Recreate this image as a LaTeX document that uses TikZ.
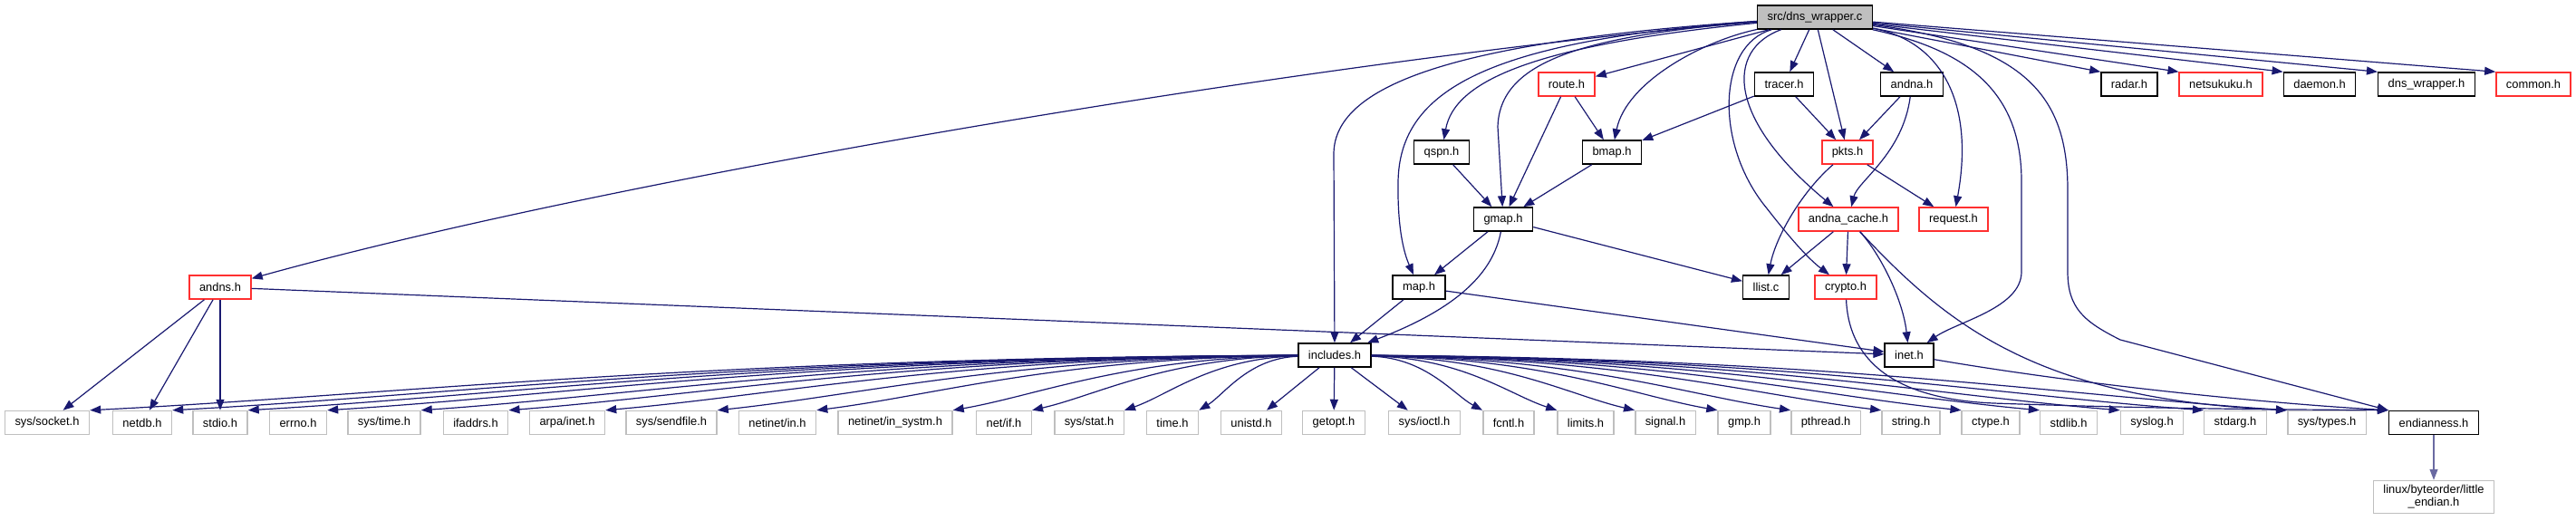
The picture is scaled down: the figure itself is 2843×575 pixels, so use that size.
\documentclass[tikz,border=0pt]{standalone}
\usepackage{fontspec}
\setmainfont{Liberation Sans}
\usetikzlibrary{arrows.meta,calc}
\definecolor{edgecol}{HTML}{191970}
\definecolor{redb}{HTML}{FF3030}
\definecolor{grayb}{HTML}{BFBFBF}
\definecolor{srcfill}{HTML}{BFBFBF}
\begin{document}
\begin{tikzpicture}[x=1pt,y=-1pt,
  base/.style={rectangle, line width=1.5pt, fill=white, minimum height=26pt, inner xsep=11pt, inner ysep=3pt, font=\fontsize{12.9}{15}\selectfont},
  blk/.style={base, draw=black},
  redbox/.style={base, draw=redb},
  sysbox/.style={base, draw=grayb},
  srcbox/.style={base, draw=black, fill=srcfill},
  arr/.style={draw=edgecol, line width=1.2pt, -{Triangle[length=12pt,width=9pt]}},
  arrl/.style={arr, draw=edgecol!65}
]
\useasboundingbox (0,0) rectangle (2843,575);

% row 1
\node[srcbox] (src) at (2003,19) {src/dns\_wrapper.c};
% row 2
\node[redbox] (route) at (1729,93) {route.h};
\node[blk] (tracer) at (1969,93) {tracer.h};
\node[blk] (andna) at (2110,93) {andna.h};
\node[blk] (radar) at (2350,93) {radar.h};
\node[redbox] (netsukuku) at (2451,93) {netsukuku.h};
\node[blk] (daemon) at (2560,93) {daemon.h};
\node[blk] (dnswh) at (2678,93) {dns\_wrapper.h};
\node[redbox] (common) at (2796,93) {common.h};
% row 3
\node[blk] (qspn) at (1591,168) {qspn.h};
\node[blk] (bmap) at (1779,168) {bmap.h};
\node[redbox] (pkts) at (2039,168) {pkts.h};
% row 4
\node[blk] (gmap) at (1659,242) {gmap.h};
\node[redbox] (andnacache) at (2040,242) {andna\_cache.h};
\node[redbox] (request) at (2156,242) {request.h};
% row 5
\node[redbox] (andns) at (243,317) {andns.h};
\node[blk] (map) at (1566,317) {map.h};
\node[blk] (llist) at (1949,317) {llist.c};
\node[redbox] (crypto) at (2037,317) {crypto.h};
% row 6
\node[blk] (includes) at (1473,392) {includes.h};
\node[blk] (inet) at (2107,392) {inet.h};
% row 7
\node[sysbox] (socket) at (52,466.5) {sys/socket.h};
\node[sysbox] (netdb) at (157,466.5) {netdb.h};
\node[sysbox] (stdio) at (243,466.5) {stdio.h};
\node[sysbox] (errno) at (329,466.5) {errno.h};
\node[sysbox] (systime) at (424,466.5) {sys/time.h};
\node[sysbox] (ifaddrs) at (525,466.5) {ifaddrs.h};
\node[sysbox] (arpainet) at (626,466.5) {arpa/inet.h};
\node[sysbox] (sendfile) at (741,466.5) {sys/sendfile.h};
\node[sysbox] (netinetin) at (858,466.5) {netinet/in.h};
\node[sysbox] (insystm) at (988,466.5) {netinet/in\_systm.h};
\node[sysbox] (netif) at (1108,466.5) {net/if.h};
\node[sysbox] (sysstat) at (1202,466.5) {sys/stat.h};
\node[sysbox] (timeh) at (1294,466.5) {time.h};
\node[sysbox] (unistd) at (1381,466.5) {unistd.h};
\node[sysbox] (getopt) at (1472,466.5) {getopt.h};
\node[sysbox] (ioctl) at (1572,466.5) {sys/ioctl.h};
\node[sysbox] (fcntl) at (1665,466.5) {fcntl.h};
\node[sysbox] (limits) at (1750,466.5) {limits.h};
\node[sysbox] (signal) at (1838,466.5) {signal.h};
\node[sysbox] (gmp) at (1925,466.5) {gmp.h};
\node[sysbox] (pthread) at (2015,466.5) {pthread.h};
\node[sysbox] (string) at (2109,466.5) {string.h};
\node[sysbox] (ctype) at (2197,466.5) {ctype.h};
\node[sysbox] (stdlib) at (2283,466.5) {stdlib.h};
\node[sysbox] (syslog) at (2375,466.5) {syslog.h};
\node[sysbox] (stdarg) at (2467,466.5) {stdarg.h};
\node[sysbox] (systypes) at (2568,466.5) {sys/types.h};
\node[blk] (endian) at (2686,466.5) {endianness.h};
% row 8
\node[sysbox, align=center, inner ysep=5pt, font=\fontsize{12.9}{14}\selectfont] (linux) at (2686,548.5) {linux/byteorder/little\\\_endian.h};

% edges from src
\draw[arr] (src) .. controls (1500,60) and (700,190) .. (andns);
\draw[arr] (src) .. controls (1620,45) and (1472,90) .. (1472,170) -- (includes);
\draw[arr] (src) .. controls (1640,45) and (1545,100) .. (1543,200) .. controls (1542,260) and (1552,285) .. (map);
\draw[arr] (src) .. controls (1690,50) and (1605,90) .. (qspn);
\draw[arr] (src) .. controls (1740,40) and (1655,70) .. (1653,140) -- (gmap);
\draw[arr] (src) -- (route);
\draw[arr] (src) .. controls (1880,45) and (1795,90) .. (bmap);
\draw[arr] (src) -- (tracer);
\draw[arr] (src) -- (pkts);
\draw[arr] (src) -- (andna);
\draw[arr] (src) .. controls (1905,55) and (1905,130) .. (andnacache);
\draw[arr] (src) .. controls (1895,50) and (1892,160) .. (1950,230) .. controls (1975,262) and (1995,285) .. (crypto);
\draw[arr] (src) .. controls (2140,45) and (2180,110) .. (request);
\draw[arr] (src) .. controls (2170,55) and (2231,100) .. (2231,200) -- (2231,300) .. controls (2231,340) and (2160,355) .. (inet);
\draw[arr] (src) .. controls (2240,50) and (2282,110) .. (2282,210) -- (2282,300) .. controls (2282,340) and (2300,355) .. (2340,375) -- (endian.north west);
\draw[arr] (src) -- (radar.north west);
\draw[arr] (src) -- (netsukuku.north west);
\draw[arr] (src) -- (daemon.north west);
\draw[arr] (src) -- (dnswh.north west);
\draw[arr] (src) -- (common.north west);

% other edges
\draw[arr] (route) -- (gmap);
\draw[arr] (route) -- (bmap);
\draw[arr] (tracer) -- (bmap);
\draw[arr] (tracer) -- (pkts);
\draw[arr] (andna) -- (pkts);
\draw[arr] (andna) .. controls (2100,170) and (2050,200) .. (andnacache);
\draw[arr] (qspn) -- (gmap);
\draw[arr] (bmap) -- (gmap);
\draw[arr] (pkts) .. controls (1990,210) and (1960,260) .. (llist);
\draw[arr] (pkts) -- (request);
\draw[arr] (gmap) -- (map);
\draw[arr] (gmap) -- (llist);
\draw[arr] (gmap) .. controls (1648,300) and (1610,340) .. (includes);
\draw[arr] (andnacache) -- (llist);
\draw[arr] (andnacache) -- (crypto);
\draw[arr] (andnacache) .. controls (2075,280) and (2100,330) .. (inet);
\draw[arr] (andnacache) .. controls (2150,360) and (2250,440) .. (systypes.north west);
\draw[arr] (crypto) .. controls (2040,390) and (2080,440) .. (2200,445) .. controls (2400,452) and (2550,452) .. (endian.north west);
\draw[arr] (andns) -- (socket);
\draw[arr] (andns) -- (netdb);
\draw[arr] (andns) -- (stdio);
\draw[arr] (andns) -- (inet);
\draw[arr] (map) -- (includes);
\draw[arr] (map) -- (inet);
\draw[arr] (inet) .. controls (2300,425) and (2500,445) .. (endian.north west);
\draw[arrl] (endian) -- (linux);

% includes fan
\foreach \t/\xr in {socket/100, netdb/188, stdio/273, errno/359, systime/465, ifaddrs/560, arpainet/668, sendfile/791, netinetin/901, insystm/1052, netif/1138, sysstat/1242, timeh/1323}{
  \draw[arr] (includes) .. controls ({1433-0.5*(1433-\xr)},395) and ({\xr+0.25*(1433-\xr)},436) .. (\t.north east);
}
\draw[arr] (includes) -- (unistd);
\draw[arr] (includes) -- (getopt);
\draw[arr] (includes) -- (ioctl);
\foreach \t/\xl in {fcntl/1636, limits/1718, signal/1805, gmp/1897, pthread/1978, string/2077, ctype/2165, stdlib/2252, syslog/2340, stdarg/2433, systypes/2525}{
  \draw[arr] (includes) .. controls ({1512+0.5*(\xl-1512)},395) and ({\xl-0.25*(\xl-1512)},436) .. (\t.north west);
}
\end{tikzpicture}
\end{document}
